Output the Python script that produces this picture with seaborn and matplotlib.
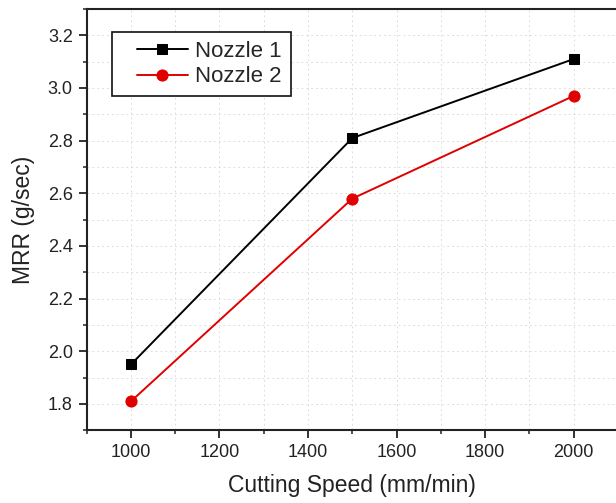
import matplotlib
matplotlib.use("Agg")
import matplotlib.pyplot as plt
from matplotlib.ticker import MultipleLocator, FormatStrFormatter
from matplotlib.legend_handler import HandlerLine2D
from matplotlib.lines import Line2D
import seaborn as sns
import pandas as pd

# Cutting speed (mm/min) and material removal rate (g/sec) per nozzle
cutting_speed = [1000, 1500, 2000]
mrr_nozzle1 = [1.95, 2.81, 3.11]
mrr_nozzle2 = [1.81, 2.58, 2.97]
series_names = ["Nozzle 1", "Nozzle 2"]
series_colors = ["#000000", "#e00000"]
series_markers = ["s", "o"]

sns.set_theme(style="ticks")
plt.rcParams["font.family"] = ["Liberation Sans", "DejaVu Sans"]

df = pd.DataFrame({
    "speed": cutting_speed * 2,
    "mrr": mrr_nozzle1 + mrr_nozzle2,
    "nozzle": [series_names[0]] * 3 + [series_names[1]] * 3,
})

fig = plt.figure(figsize=(6.16, 5.03), dpi=100)
ax = fig.add_axes([0.1407, 0.1445, 0.8625, 0.8376])

for name, color, marker in zip(series_names, series_colors, series_markers):
    sns.lineplot(
        data=df[df["nozzle"] == name], x="speed", y="mrr", ax=ax,
        color=color, marker=marker, markersize=7.5 if marker == "s" else 8,
        markeredgecolor=color, linewidth=1.4, label=name, zorder=3,
    )

ax.set_xlim(900, 2100)
ax.set_ylim(1.7, 3.3)
ax.xaxis.set_major_locator(MultipleLocator(200))
ax.xaxis.set_minor_locator(MultipleLocator(100))
ax.yaxis.set_major_locator(MultipleLocator(0.2))
ax.yaxis.set_minor_locator(MultipleLocator(0.1))
ax.yaxis.set_major_formatter(FormatStrFormatter("%.1f"))

# faint dotted grid at major and minor positions
ax.grid(which="both", color="#dedede", linestyle=(0, (2, 3)), linewidth=0.7, zorder=0)

ax.tick_params(which="major", direction="out", length=6, width=1.3,
               labelsize=13, color="#222222", labelcolor="#222222", pad=4)
ax.tick_params(which="minor", direction="out", length=3, width=1.1, color="#222222")
for side in ["left", "bottom", "top", "right"]:
    ax.spines[side].set_visible(True)
    ax.spines[side].set_linewidth(1.5)
    ax.spines[side].set_color("#222222")

ax.set_xlabel("Cutting Speed (mm/min)", fontsize=16.5, color="#222222", labelpad=9)
ax.set_ylabel("MRR (g/sec)", fontsize=16.5, color="#222222", labelpad=9)

handles, labels = ax.get_legend_handles_labels()
leg = ax.legend(
    handles, labels,
    loc="upper left", bbox_to_anchor=(0.0476, 0.9454), borderaxespad=0,
    fontsize=16, frameon=True, fancybox=False, edgecolor="#111111",
    framealpha=1, handlelength=3.0, handletextpad=0.35, labelspacing=0.2,
    borderpad=0.4,
    handler_map={Line2D: HandlerLine2D(xpad=0.72)},
)
leg.get_frame().set_linewidth(1.2)

fig.savefig("out.png", dpi=100)
